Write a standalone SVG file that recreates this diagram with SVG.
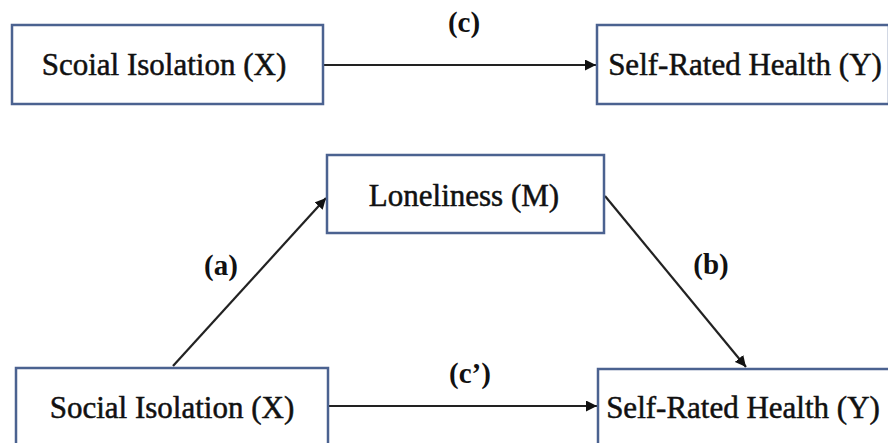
<svg xmlns="http://www.w3.org/2000/svg" width="888" height="443" viewBox="0 0 888 443">
<style>
.box{fill:#fff;stroke:#4b6290;stroke-width:2.5}
.t{font-family:"Liberation Serif","Times New Roman",serif;font-size:31px;fill:#111;stroke:#111;stroke-width:0.5}
.l{font-family:"Liberation Serif","Times New Roman",serif;font-size:29px;font-weight:bold;fill:#111}
.c{stroke:#222;stroke-width:2.2;fill:none;marker-end:url(#ah)}
</style>
<defs>
<marker id="ah" viewBox="0 0 10 10" refX="10" refY="5" markerWidth="5" markerHeight="5" markerUnits="strokeWidth" orient="auto">
<path d="M0,0 L10,5 L0,10 Z" fill="#111"/>
</marker>
</defs>
<rect width="888" height="443" fill="#fff"/>
<g id="connectors">
<line class="c" x1="324" y1="65" x2="596" y2="65"/>
<line class="c" x1="173" y1="366" x2="326" y2="198"/>
<line class="c" x1="605" y1="196" x2="746" y2="367"/>
<line class="c" x1="329" y1="406" x2="597" y2="406"/>
</g>
<g id="labels">
<text class="l" x="464" y="32" text-anchor="middle">(c)</text>
<text class="l" x="221" y="275" text-anchor="middle">(a)</text>
<text class="l" x="711" y="274" text-anchor="middle">(b)</text>
<text class="l" x="470" y="383" text-anchor="middle">(c’)</text>
</g>
<g id="x-top">
<rect class="box" x="12" y="25" width="311" height="79"/>
<text class="t" x="164" y="75" text-anchor="middle">Scoial Isolation (X)</text>
</g>
<g id="y-top">
<rect class="box" x="597" y="25" width="292" height="79"/>
<text class="t" x="745" y="75" text-anchor="middle">Self-Rated Health (Y)</text>
</g>
<g id="m">
<rect class="box" x="327" y="155" width="277" height="78"/>
<text class="t" x="464" y="206" text-anchor="middle">Loneliness (M)</text>
</g>
<g id="x-bottom">
<rect class="box" x="16" y="368" width="312" height="90"/>
<text class="t" x="172" y="418" text-anchor="middle">Social Isolation (X)</text>
</g>
<g id="y-bottom">
<rect class="box" x="598" y="369" width="292" height="90"/>
<text class="t" x="743" y="418" text-anchor="middle">Self-Rated Health (Y)</text>
</g>
</svg>
